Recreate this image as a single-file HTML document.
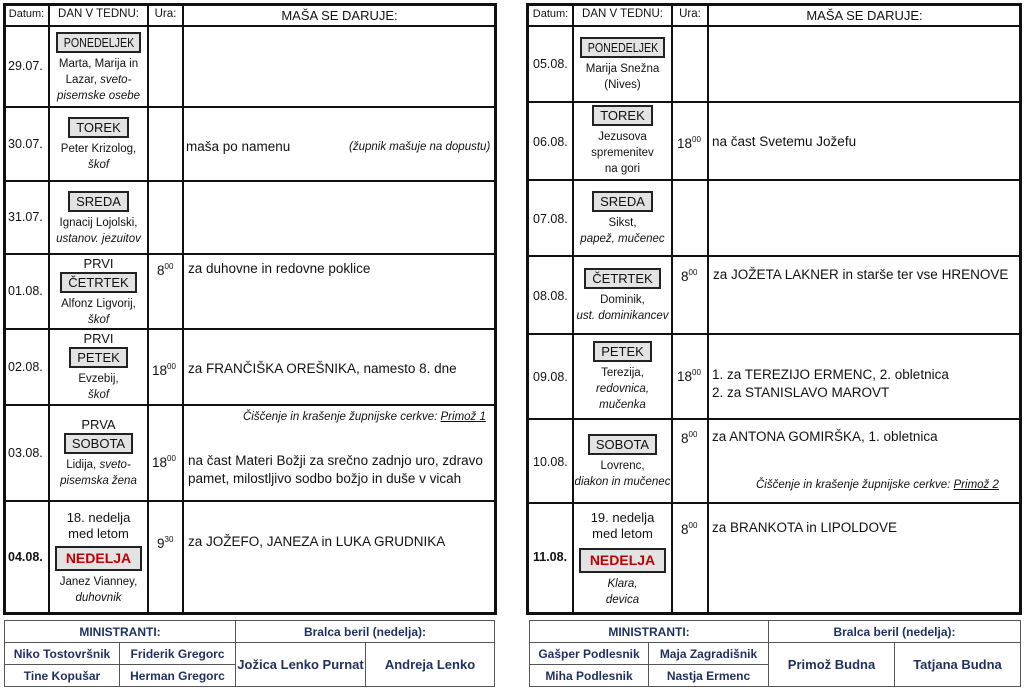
<!DOCTYPE html>
<html><head><meta charset="utf-8">
<style>
*{box-sizing:border-box;margin:0;padding:0}
body{width:1024px;height:690px;background:#fff;position:relative;overflow:hidden;font-family:"Liberation Sans",sans-serif;color:#111}
.ob{position:absolute;border:3px solid #111}
.v{position:absolute;width:2px;background:#111}
.h{position:absolute;height:2px;background:#111}
.c{position:absolute;display:flex;flex-direction:column;align-items:center;justify-content:center;text-align:center;font-size:11.5px;line-height:16px;white-space:nowrap}
.hd{position:absolute;font-size:11.5px;text-align:center;top:8px;white-space:nowrap}
.bx{border:2px solid #222;background:#e3e3e3;font-size:13px;line-height:17px;padding:0 6px;margin:2px 0 3px}
.bx span{display:inline-block;transform:scaleX(.82);margin:0 -8px}
.nb{border:2px solid #222;background:#e3e3e3;font-size:14px;font-weight:bold;color:#c00000;line-height:21px;padding:0 9px;margin:4px 0 3px}
.big{font-size:13px;line-height:16px}
i{font-style:italic}
.dt{position:absolute;font-size:12.5px}
.t{position:absolute;font-size:13.5px;white-space:nowrap;line-height:18px}
.u{position:absolute;font-size:13.5px;white-space:nowrap}
.u sup{font-size:8px;vertical-align:6px}
.ci{position:absolute;font-size:11.5px;font-style:italic;white-space:nowrap}
.ci span{text-decoration:underline}
.bt{position:absolute;border:1px solid #555}
.bl{position:absolute;background:#555}
.bc{position:absolute;font-size:12px;font-weight:bold;color:#1f2f5f;text-align:center;white-space:nowrap}
</style></head><body>

<!-- LEFT TABLE -->
<div class="ob" style="left:3px;top:3px;width:494px;height:612px"></div>
<div class="v" style="left:48px;top:5px;height:608px"></div>
<div class="v" style="left:147px;top:5px;height:608px"></div>
<div class="v" style="left:182px;top:5px;height:608px"></div>
<div class="h" style="left:5px;top:25px;width:490px"></div>
<div class="h" style="left:5px;top:106px;width:490px"></div>
<div class="h" style="left:5px;top:180px;width:490px"></div>
<div class="h" style="left:5px;top:253px;width:490px"></div>
<div class="h" style="left:5px;top:328px;width:490px"></div>
<div class="h" style="left:5px;top:404px;width:490px"></div>
<div class="h" style="left:5px;top:500px;width:490px"></div>

<div class="hd" style="left:5px;width:43px;font-size:11px">Datum:</div>
<div class="hd" style="left:50px;width:97px">DAN V TEDNU:</div>
<div class="hd" style="left:149px;width:33px">Ura:</div>
<div class="hd" style="left:184px;width:311px;font-size:13px">MAŠA SE DARUJE:</div>

<div class="dt" style="left:8px;top:59px">29.07.</div>
<div class="dt" style="left:8px;top:137px">30.07.</div>
<div class="dt" style="left:8px;top:210px">31.07.</div>
<div class="dt" style="left:8px;top:284px">01.08.</div>
<div class="dt" style="left:8px;top:360px">02.08.</div>
<div class="dt" style="left:8px;top:446px">03.08.</div>
<div class="dt" style="left:8px;top:550px;font-weight:bold">04.08.</div>

<div class="c" style="left:50px;top:27px;width:97px;height:79px"><div class="bx"><span>PONEDELJEK</span></div><div>Marta, Marija in</div><div>Lazar, <i>sveto-</i></div><div><i>pisemske osebe</i></div></div>
<div class="c" style="left:50px;top:108px;width:97px;height:72px"><div class="bx">TOREK</div><div>Peter Krizolog,</div><div><i>škof</i></div></div>
<div class="c" style="left:50px;top:182px;width:97px;height:71px"><div class="bx">SREDA</div><div>Ignacij Lojolski,</div><div><i>ustanov. jezuitov</i></div></div>
<div class="c" style="left:50px;top:255px;width:97px;height:73px"><div class="big">PRVI</div><div class="bx" style="margin-top:0">ČETRTEK</div><div>Alfonz Ligvorij,</div><div><i>škof</i></div></div>
<div class="c" style="left:50px;top:330px;width:97px;height:74px"><div class="big">PRVI</div><div class="bx" style="margin-top:0">PETEK</div><div>Evzebij,</div><div><i>škof</i></div></div>
<div class="c" style="left:50px;top:406px;width:97px;height:94px"><div class="big">PRVA</div><div class="bx" style="margin-top:0">SOBOTA</div><div>Lidija, <i>sveto-</i></div><div><i>pisemska žena</i></div></div>
<div class="c" style="left:50px;top:502px;width:97px;height:111px"><div class="big">18. nedelja</div><div class="big">med letom</div><div class="nb">NEDELJA</div><div>Janez Vianney,</div><div><i>duhovnik</i></div></div>

<div class="t" style="left:186px;top:138px">maša po namenu</div>
<div class="ci" style="left:349px;top:141px">(župnik mašuje na dopustu)</div>
<div class="u" style="left:157px;top:262px">8<sup>00</sup></div>
<div class="t" style="left:188px;top:260px">za duhovne in redovne poklice</div>
<div class="u" style="left:152px;top:362px">18<sup>00</sup></div>
<div class="t" style="left:188px;top:360px">za FRANČIŠKA OREŠNIKA, namesto 8. dne</div>
<div class="ci" style="left:243px;top:411px">Čiščenje in krašenje župnijske cerkve: <span>Primož 1</span></div>
<div class="u" style="left:152px;top:454px">18<sup>00</sup></div>
<div class="t" style="left:188px;top:452px">na čast Materi Božji za srečno zadnjo uro, zdravo</div>
<div class="t" style="left:188px;top:470px">pamet, milostljivo sodbo božjo in duše v vicah</div>
<div class="u" style="left:157px;top:535px">9<sup>30</sup></div>
<div class="t" style="left:188px;top:533px">za JOŽEFO, JANEZA in LUKA GRUDNIKA</div>

<!-- RIGHT TABLE -->
<div class="ob" style="left:526px;top:3px;width:496px;height:612px"></div>
<div class="v" style="left:572px;top:5px;height:608px"></div>
<div class="v" style="left:671px;top:5px;height:608px"></div>
<div class="v" style="left:707px;top:5px;height:608px"></div>
<div class="h" style="left:528px;top:25px;width:492px"></div>
<div class="h" style="left:528px;top:101px;width:492px"></div>
<div class="h" style="left:528px;top:179px;width:492px"></div>
<div class="h" style="left:528px;top:255px;width:492px"></div>
<div class="h" style="left:528px;top:333px;width:492px"></div>
<div class="h" style="left:528px;top:418px;width:492px"></div>
<div class="h" style="left:528px;top:502px;width:492px"></div>

<div class="hd" style="left:529px;width:43px;font-size:11px">Datum:</div>
<div class="hd" style="left:574px;width:97px">DAN V TEDNU:</div>
<div class="hd" style="left:673px;width:34px">Ura:</div>
<div class="hd" style="left:709px;width:311px;font-size:13px">MAŠA SE DARUJE:</div>

<div class="dt" style="left:533px;top:57px">05.08.</div>
<div class="dt" style="left:533px;top:135px">06.08.</div>
<div class="dt" style="left:533px;top:212px">07.08.</div>
<div class="dt" style="left:533px;top:289px">08.08.</div>
<div class="dt" style="left:533px;top:370px">09.08.</div>
<div class="dt" style="left:533px;top:455px">10.08.</div>
<div class="dt" style="left:533px;top:550px;font-weight:bold">11.08.</div>

<div class="c" style="left:574px;top:27px;width:97px;height:74px"><div class="bx"><span>PONEDELJEK</span></div><div>Marija Snežna</div><div>(Nives)</div></div>
<div class="c" style="left:574px;top:103px;width:97px;height:76px"><div class="bx" style="margin-top:0">TOREK</div><div>Jezusova</div><div>spremenitev</div><div>na gori</div></div>
<div class="c" style="left:574px;top:181px;width:97px;height:74px"><div class="bx">SREDA</div><div>Sikst,</div><div><i>papež, mučenec</i></div></div>
<div class="c" style="left:574px;top:257px;width:97px;height:76px"><div class="bx">ČETRTEK</div><div>Dominik,</div><div><i>ust. dominikancev</i></div></div>
<div class="c" style="left:574px;top:335px;width:97px;height:83px"><div class="bx" style="margin-top:0">PETEK</div><div>Terezija,</div><div><i>redovnica,</i></div><div><i>mučenka</i></div></div>
<div class="c" style="left:574px;top:420px;width:97px;height:82px"><div class="bx">SOBOTA</div><div>Lovrenc,</div><div><i>diakon in mučenec</i></div></div>
<div class="c" style="left:574px;top:504px;width:97px;height:109px"><div class="big">19. nedelja</div><div class="big">med letom</div><div class="nb" style="margin-top:6px">NEDELJA</div><div><i>Klara,</i></div><div><i>devica</i></div></div>

<div class="u" style="left:677px;top:135px">18<sup>00</sup></div>
<div class="t" style="left:712px;top:133px">na čast Svetemu Jožefu</div>
<div class="u" style="left:681px;top:268px">8<sup>00</sup></div>
<div class="t" style="left:713px;top:266px">za JOŽETA LAKNER in starše ter vse HRENOVE</div>
<div class="u" style="left:677px;top:368px">18<sup>00</sup></div>
<div class="t" style="left:712px;top:366px">1. za TEREZIJO ERMENC, 2. obletnica</div>
<div class="t" style="left:712px;top:384px">2. za STANISLAVO MAROVT</div>
<div class="u" style="left:681px;top:430px">8<sup>00</sup></div>
<div class="t" style="left:712px;top:428px">za ANTONA GOMIRŠKA, 1. obletnica</div>
<div class="ci" style="left:756px;top:479px">Čiščenje in krašenje župnijske cerkve: <span>Primož 2</span></div>
<div class="u" style="left:681px;top:521px">8<sup>00</sup></div>
<div class="t" style="left:712px;top:519px">za BRANKOTA in LIPOLDOVE</div>

<!-- BOTTOM LEFT -->
<div class="bt" style="left:4px;top:620px;width:491px;height:67px"></div>
<div class="bl" style="left:4px;top:642px;width:491px;height:1px"></div>
<div class="bl" style="left:4px;top:664px;width:232px;height:1px"></div>
<div class="bl" style="left:235px;top:620px;width:1px;height:67px"></div>
<div class="bl" style="left:119px;top:643px;width:1px;height:44px"></div>
<div class="bl" style="left:365px;top:643px;width:1px;height:44px"></div>
<div class="bc" style="left:5px;top:625px;width:230px">MINISTRANTI:</div>
<div class="bc" style="left:236px;top:625px;width:258px">Bralca beril (nedelja):</div>
<div class="bc" style="left:5px;top:647px;width:114px">Niko Tostovršnik</div>
<div class="bc" style="left:120px;top:647px;width:115px">Friderik Gregorc</div>
<div class="bc" style="left:5px;top:669px;width:114px">Tine Kopušar</div>
<div class="bc" style="left:120px;top:669px;width:115px">Herman Gregorc</div>
<div class="bc" style="left:236px;top:657px;width:129px;font-size:13px">Jožica Lenko Purnat</div>
<div class="bc" style="left:366px;top:657px;width:128px;font-size:13px">Andreja Lenko</div>

<!-- BOTTOM RIGHT -->
<div class="bt" style="left:529px;top:620px;width:492px;height:67px"></div>
<div class="bl" style="left:529px;top:642px;width:492px;height:1px"></div>
<div class="bl" style="left:529px;top:664px;width:240px;height:1px"></div>
<div class="bl" style="left:768px;top:620px;width:1px;height:67px"></div>
<div class="bl" style="left:648px;top:643px;width:1px;height:44px"></div>
<div class="bl" style="left:894px;top:643px;width:1px;height:44px"></div>
<div class="bc" style="left:530px;top:625px;width:238px">MINISTRANTI:</div>
<div class="bc" style="left:769px;top:625px;width:251px">Bralca beril (nedelja):</div>
<div class="bc" style="left:530px;top:647px;width:118px">Gašper Podlesnik</div>
<div class="bc" style="left:649px;top:647px;width:119px">Maja Zagradišnik</div>
<div class="bc" style="left:530px;top:669px;width:118px">Miha Podlesnik</div>
<div class="bc" style="left:649px;top:669px;width:119px">Nastja Ermenc</div>
<div class="bc" style="left:769px;top:657px;width:125px;font-size:13px">Primož Budna</div>
<div class="bc" style="left:895px;top:657px;width:125px;font-size:13px">Tatjana Budna</div>

</body></html>
